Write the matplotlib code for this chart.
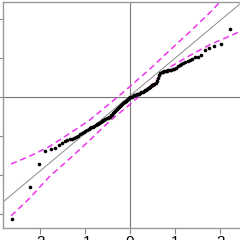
import numpy as np
import matplotlib
matplotlib.use("Agg")
import matplotlib.pyplot as plt
from statistics import NormalDist

# ----- sorted sample values -----
sample = [
    -3.14, -2.30, -1.72, -1.38, -1.33, -1.31, -1.23, -1.19, -1.14, -1.11,
    -1.09, -1.07, -1.04, -1.02, -0.99, -0.96, -0.93, -0.89, -0.86, -0.84,
    -0.82, -0.80, -0.78, -0.76, -0.74, -0.72, -0.70, -0.68, -0.66, -0.64,
    -0.62, -0.60, -0.58, -0.57, -0.55, -0.53, -0.52, -0.50, -0.47, -0.45,
    -0.42, -0.39, -0.36, -0.34, -0.32, -0.29, -0.26, -0.24, -0.21, -0.18,
    -0.16, -0.14, -0.12, -0.09, -0.07, -0.04, -0.03, -0.01, 0.00, 0.01,
    0.03, 0.04, 0.05, 0.06, 0.07, 0.08, 0.09, 0.11, 0.12, 0.14,
    0.15, 0.17, 0.18, 0.20, 0.22, 0.24, 0.26, 0.28, 0.30, 0.32,
    0.34, 0.37, 0.42, 0.49, 0.56, 0.62, 0.64, 0.65, 0.66, 0.67,
    0.68, 0.69, 0.69, 0.70, 0.71, 0.72, 0.75, 0.79, 0.82, 0.85,
    0.87, 0.89, 0.92, 0.94, 0.97, 1.02, 1.03, 1.07, 1.22, 1.27,
    1.31, 1.36, 1.74, 2.20,
]

# ----- confidence envelope -----
band_x = [-2.63, -2.22, -1.78, -1.33, -0.90, -0.45, 0.00, 0.45, 0.90, 1.33, 1.78, 2.20, 2.62]
band_upper = [-1.72, -1.52, -1.27, -0.93, -0.60, -0.17, 0.27, 0.73, 1.22, 1.68, 2.18, 2.70, 3.30]
band_lower = [-3.05, -2.60, -2.04, -1.58, -1.12, -0.62, -0.19, 0.28, 0.78, 1.07, 1.35, 1.56, 1.78]

# reference line
line_intercept = 0.03
line_slope = 0.97

x_ticks = [-2, -1, 0, 1, 2]
y_ticks = [-3, -2, -1, 0, 1, 2]

# theoretical normal quantiles (ppoints)
n = len(sample)
theo = [NormalDist().inv_cdf((i + 0.5) / n) for i in range(n)]

fig = plt.figure(figsize=(2.4, 2.4), dpi=100)
ax = fig.add_axes([2.5 / 240, 12.5 / 240, 258.5 / 240, 225.5 / 240])

ax.axhline(0, color="#777777", lw=0.8, zorder=1)
ax.axvline(0, color="#777777", lw=0.8, zorder=1)

xl = np.array([-3.5, 3.5])
ax.plot(xl, line_intercept + line_slope * xl, color="#8a8a8a", lw=0.7, zorder=2)

ax.plot(band_x, band_upper, color="#ee33ee", lw=1.1, dashes=(4, 2.5), zorder=3)
ax.plot(band_x, band_lower, color="#ee33ee", lw=1.1, dashes=(4, 2.5), zorder=3)

ax.plot(theo, sample, "o", color="black", ms=2.6, mec="black", mew=0, zorder=4)

ax.set_xlim(-2.82, 2.9)
ax.set_ylim(-3.35, 2.44)
ax.set_xticks(x_ticks)
ax.set_yticks(y_ticks)
ax.set_xticklabels([str(t) for t in x_ticks], fontsize=11, family="Liberation Sans")
ax.set_yticklabels([])
ax.tick_params(direction="out", length=4, width=0.8, color="#888888", pad=1.5)
for s in ax.spines.values():
    s.set_color("#999999")
    s.set_linewidth(1.0)

fig.savefig("out.png", dpi=100)
